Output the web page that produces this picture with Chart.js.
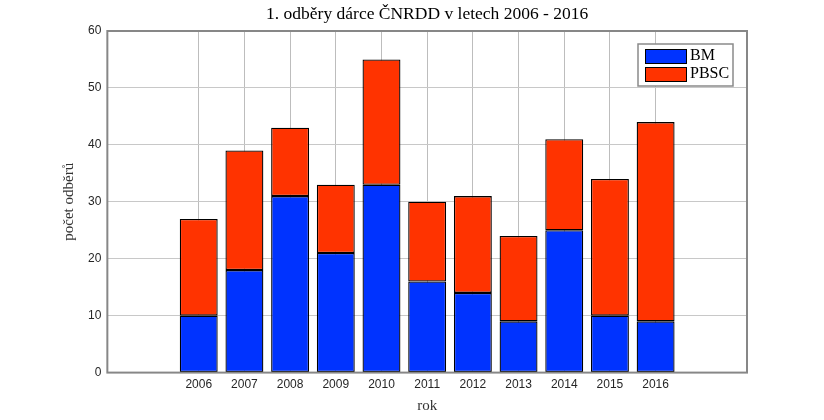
<!DOCTYPE html>
<html lang="cs">
<head>
    <meta charset="UTF-8">
    <title>Odběry dárce ČNRDD</title>
    <script src="https://cdn.jsdelivr.net/npm/chart.js"></script>
    <style>
        body { margin: 0; background: #fff; }
        #wrap { width: 824px; height: 420px; }
    </style>
</head>
<body>
    <div id="wrap"><canvas id="odbery"></canvas></div>

    <script>
        // data
        const years = [2006, 2007, 2008, 2009, 2010, 2011, 2012, 2013, 2014, 2015, 2016];
        const bm = [10, 18, 31, 21, 33, 16, 14, 9, 25, 10, 9];
        const pbsc = [17, 21, 12, 12, 22, 14, 17, 15, 16, 24, 35];
        const yTicks = [0, 10, 20, 30, 40, 50, 60];
        const titleText = '1. odběry dárce ČNRDD v letech 2006 - 2016';

        const serif = '"Liberation Serif", "DejaVu Serif", serif';
        const sans = '"Liberation Sans", Arial, sans-serif';

        // title centred over the plot, box around the plot, legend top right
        const boxAndLegend = {
            id: 'boxAndLegend',
            afterDraw(chart) {
                const { ctx, chartArea: a } = chart;
                ctx.save();
                ctx.fillStyle = '#000';
                ctx.font = '17.5px ' + serif;
                ctx.textAlign = 'center';
                ctx.textBaseline = 'middle';
                ctx.fillText(titleText, (a.left + a.right) / 2, 14);

                ctx.strokeStyle = '#878787';
                ctx.lineWidth = 2;
                ctx.strokeRect(a.left, a.top, a.right - a.left, a.bottom - a.top);

                // legend
                const lx = 638, ly = 44, lw = 95, lh = 42;
                ctx.fillStyle = '#fff';
                ctx.fillRect(lx, ly, lw, lh);
                ctx.strokeStyle = '#8a8a8a';
                ctx.lineWidth = 1.5;
                ctx.strokeRect(lx, ly, lw, lh);
                ctx.font = '16px ' + serif;
                ctx.textAlign = 'left';
                chart.data.datasets.forEach((ds, i) => {
                    const y = ly + 5 + i * 18;
                    ctx.fillStyle = ds.backgroundColor;
                    ctx.fillRect(645, y, 41, 14);
                    ctx.strokeStyle = '#000';
                    ctx.lineWidth = 1;
                    ctx.strokeRect(645.5, y + 0.5, 41, 14);
                    ctx.fillStyle = '#000';
                    ctx.fillText(ds.label, 690, y + 7);
                });
                ctx.restore();
            }
        };

        new Chart(document.getElementById('odbery'), {
            type: 'bar',
            data: {
                datasets: [
                    {
                        label: 'BM',
                        data: years.map((y, i) => ({ x: y, y: bm[i] })),
                        backgroundColor: '#0033ff',
                        borderColor: '#000',
                        borderWidth: 1.3,
                        borderSkipped: false
                    },
                    {
                        label: 'PBSC',
                        data: years.map((y, i) => ({ x: y, y: pbsc[i] })),
                        backgroundColor: '#ff3300',
                        borderColor: '#000',
                        borderWidth: 1.3,
                        borderSkipped: false
                    }
                ]
            },
            plugins: [boxAndLegend],
            options: {
                responsive: true,
                maintainAspectRatio: false,
                animation: false,
                barPercentage: 0.83,
                categoryPercentage: 1,
                layout: { padding: { left: 60, right: 77, top: 31, bottom: 0 } },
                plugins: {
                    legend: { display: false },
                    tooltip: { enabled: false },
                    title: { display: false }
                },
                scales: {
                    x: {
                        type: 'linear',
                        stacked: true,
                        offset: false,
                        min: 2004,
                        max: 2018,
                        afterBuildTicks: (axis) => { axis.ticks = years.map(v => ({ value: v })); },
                        ticks: {
                            color: '#262626',
                            font: { family: sans, size: 12 },
                            padding: 5,
                            callback: (v) => String(v)
                        },
                        grid: { color: '#bdbdbd', tickLength: 0, offset: false },
                        border: { display: false },
                        title: {
                            display: true,
                            text: 'rok',
                            color: '#333',
                            font: { family: serif, size: 15 },
                            padding: { top: 0, bottom: 5 }
                        }
                    },
                    y: {
                        stacked: true,
                        min: 0,
                        max: 60,
                        afterBuildTicks: (axis) => { axis.ticks = yTicks.map(v => ({ value: v })); },
                        ticks: {
                            color: '#262626',
                            font: { family: sans, size: 12 },
                            padding: 6
                        },
                        grid: { color: '#c8c8c8', tickLength: 0 },
                        border: { display: false },
                        title: {
                            display: true,
                            text: 'počet odběrů',
                            color: '#333',
                            font: { family: serif, size: 15 },
                            padding: { top: 0, bottom: 4 }
                        }
                    }
                }
            }
        });
    </script>
</body>
</html>
